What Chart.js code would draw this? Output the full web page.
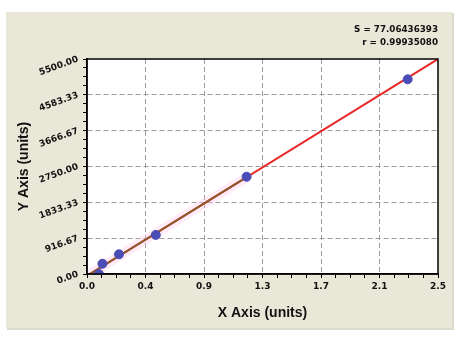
<!DOCTYPE html>
<html>
<head>
<meta charset="utf-8">
<script src="https://cdn.jsdelivr.net/npm/chart.js@4.4.0/dist/chart.umd.min.js"></script>
<style>
  html, body { margin: 0; padding: 0; background: #fff; }
  canvas { display: block; }
</style>
</head>
<body>
<canvas id="calibChart" width="460" height="349"></canvas>
<script>
// standard points
const standardX = [0.085, 0.11, 0.228, 0.49, 1.137, 2.284];
const standardY = [0, 263, 504, 1000, 2489, 4980];

// fitted line over the whole range
const fitX = [0.02, 2.5];
const fitY = [0, 5500];

// fitted segment over the standards (brown part)
const segX = [0.02, 1.137];
const segY = [0, 2477];

// axis tick labels (major ticks only)
const xTickLabels = ["0.0", "0.4", "0.9", "1.3", "1.7", "2.1", "2.5"];
const yTickLabels = ["0.00", "916.67", "1833.33", "2750.00", "3666.67", "4583.33", "5500.00"];

// fit statistics
const statS = "77.06436393";
const statR = "0.99935080";

const MINOR = 4;

function toPoints(xs, ys) {
    return xs.map((x, i) => ({ x: x, y: ys[i] }));
}

// major + minor ticks, 4 steps between labels
function buildTicks(labels) {
    return function (scale) {
        const n = (labels.length - 1) * MINOR;
        const ticks = [];
        for (let i = 0; i <= n; i++) {
            ticks.push({ value: scale.min + (scale.max - scale.min) * i / n });
        }
        scale.ticks = ticks;
    };
}

function gridColor(labels) {
    const last = (labels.length - 1) * MINOR;
    return ctx => (ctx.index % MINOR === 0 && ctx.index !== 0 && ctx.index !== last) ? '#9c9c9c' : 'rgba(0,0,0,0)';
}

const tickFont = { family: 'DejaVu Sans', size: 9, weight: 'bold' };
const titleFont = { family: 'Liberation Sans', size: 14, weight: 'bold' };

// beige panel, white plot area, frame and stats text
const panelPlugin = {
    id: 'panel',
    beforeDraw(chart) {
        const c = chart.ctx, a = chart.chartArea;
        c.save();
        c.fillStyle = '#ffffff';
        c.fillRect(0, 0, chart.width, chart.height);
        c.fillStyle = '#dcdbcc';
        c.fillRect(7, 13, 447, 317);
        c.fillStyle = '#e9e8d8';
        c.fillRect(6, 12, 446, 316);
        c.fillStyle = '#ffffff';
        c.fillRect(a.left, a.top, a.right - a.left, a.bottom - a.top);
        c.restore();
    },
    afterDraw(chart) {
        const c = chart.ctx, a = chart.chartArea;
        c.save();
        c.strokeStyle = '#000';
        c.lineWidth = 1.5;
        c.strokeRect(a.left, a.top, a.right - a.left, a.bottom - a.top);
        c.fillStyle = '#111';
        c.font = 'bold 8.75px "DejaVu Sans"';
        c.textAlign = 'right';
        c.textBaseline = 'middle';
        c.fillText('S = ' + statS, a.right, 30);
        c.fillText('r = ' + statR, a.right, 43);
        c.restore();
    }
};

const config = {
    type: 'scatter',
    data: {
        datasets: [
            {
                label: 'Standards',
                data: toPoints(standardX, standardY),
                backgroundColor: '#4a4db6',
                borderColor: '#4a4db6',
                pointRadius: 4.5,
                order: 1
            },
            {
                label: 'Segment',
                type: 'line',
                data: toPoints(segX, segY),
                borderColor: '#8c5a2c',
                borderWidth: 2,
                pointRadius: 0,
                order: 2
            },
            {
                label: 'Fit',
                type: 'line',
                data: toPoints(fitX, fitY),
                borderColor: '#e8282a',
                borderWidth: 2,
                pointRadius: 0,
                order: 3
            },
            {
                label: 'Band',
                type: 'line',
                data: toPoints(segX, segY),
                borderColor: 'rgba(255, 200, 235, 0.35)',
                borderWidth: 10,
                pointRadius: 0,
                order: 4
            }
        ]
    },
    options: {
        responsive: false,
        animation: false,
        events: [],
        layout: { padding: { top: 59, right: 22, left: 0, bottom: 0 } },
        plugins: {
            legend: { display: false },
            tooltip: { enabled: false }
        },
        scales: {
            x: {
                type: 'linear',
                min: 0,
                max: 2.5,
                afterBuildTicks: buildTicks(xTickLabels),
                afterFit: scale => { scale.height = 75; },
                ticks: {
                    autoSkip: false,
                    maxRotation: 0,
                    padding: 3,
                    color: '#111',
                    font: tickFont,
                    callback: (v, i) => i % MINOR === 0 ? xTickLabels[i / MINOR] : ''
                },
                grid: {
                    color: gridColor(xTickLabels),
                    tickColor: '#000',
                    tickLength: 4,
                    lineWidth: 1
                },
                border: { color: '#000', width: 1.5, dash: [5, 3] },
                title: {
                    display: true,
                    text: 'X Axis (units)',
                    color: '#111',
                    font: titleFont,
                    padding: { top: 0, bottom: 27 }
                }
            },
            y: {
                type: 'linear',
                min: 0,
                max: 5500,
                afterBuildTicks: buildTicks(yTickLabels),
                afterFit: scale => { scale.width = 87; },
                ticks: {
                    autoSkip: false,
                    minRotation: 20,
                    maxRotation: 20,
                    padding: 5,
                    color: '#111',
                    font: tickFont,
                    callback: (v, i) => i % MINOR === 0 ? yTickLabels[i / MINOR] : ''
                },
                grid: {
                    color: gridColor(yTickLabels),
                    tickColor: '#000',
                    tickLength: 4,
                    lineWidth: 1
                },
                border: { color: '#000', width: 1.5, dash: [5, 3] },
                title: {
                    display: true,
                    text: 'Y Axis (units)',
                    color: '#111',
                    font: titleFont,
                    padding: { top: 16, bottom: 0 }
                }
            }
        }
    },
    plugins: [panelPlugin]
};

const chart = new Chart(document.getElementById('calibChart').getContext('2d'), config);
</script>
</body>
</html>
